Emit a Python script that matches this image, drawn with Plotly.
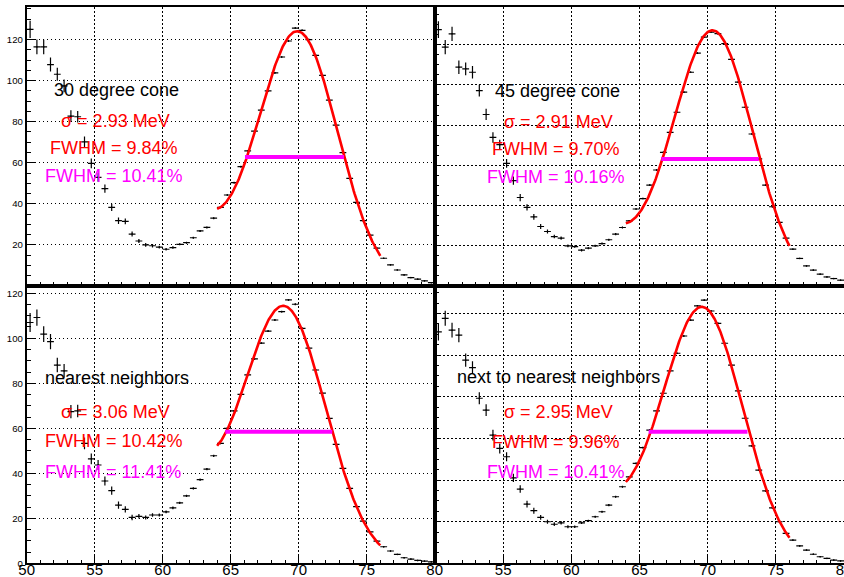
import numpy as np
import plotly.graph_objects as go

# ---- histogram binning: 60 bins of 0.5 MeV between 50 and 80 MeV ----
bin_lo, bin_hi, n_bins = 50.0, 80.0, 60
bin_width = (bin_hi - bin_lo) / n_bins
bin_centers = bin_lo + bin_width * (np.arange(n_bins) + 0.5)

counts_30deg = [125.0, 116.4, 116.4, 107.8, 103.1, 97.4, 82.7, 82.4, 70.2, 59.7,
                52.9, 47.4, 38.3, 31.8, 31.5, 25.3, 21.9, 20.0, 19.6, 18.9,
                17.9, 18.7, 20.3, 21.1, 23.5, 26.8, 28.5, 33.0, 38.3, 44.3,
                50.3, 58.1, 65.8, 75.4, 85.6, 95.0, 103.8, 111.5, 119.3, 125.6,
                124.5, 120.0, 112.3, 102.6, 90.5, 78.3, 64.9, 52.4, 40.7, 31.8,
                24.8, 18.4, 13.5, 10.3, 7.8, 5.4, 4.1, 3.3, 2.5, 1.6]

counts_45deg = [127.5, 118.8, 125.4, 108.8, 108.0, 106.3, 97.2, 85.3, 73.9, 70.3,
                61.0, 52.4, 44.0, 39.1, 34.4, 29.6, 27.1, 24.6, 23.8, 20.0,
                19.6, 17.8, 18.8, 20.0, 21.1, 23.0, 25.8, 29.1, 32.4, 38.3,
                43.5, 50.2, 57.7, 66.5, 76.4, 86.4, 96.4, 106.3, 115.8, 123.8,
                126.3, 125.5, 120.5, 112.7, 101.4, 88.9, 75.6, 63.2, 50.2, 39.4,
                31.6, 23.8, 18.3, 13.7, 10.0, 7.9, 5.9, 4.5, 3.7, 2.9]

counts_nn = [107.0, 109.2, 101.8, 98.5, 88.1, 85.5, 67.4, 67.7, 53.3, 46.4,
             43.7, 36.6, 32.3, 25.9, 24.0, 20.4, 20.9, 20.4, 21.5, 21.5,
             22.9, 24.7, 26.9, 30.0, 33.3, 37.2, 41.9, 47.8, 53.3, 60.0,
             67.7, 75.1, 83.7, 90.8, 97.8, 103.2, 108.1, 111.8, 117.0, 115.1,
             104.4, 95.6, 85.9, 75.6, 64.4, 52.9, 42.2, 33.3, 25.2, 18.8,
             14.0, 9.9, 7.4, 5.5, 4.0, 2.5, 1.9, 1.3, 1.0, 0.7]

counts_nnn = [111.2, 117.7, 112.0, 109.6, 97.6, 94.0, 79.3, 73.6, 61.6, 55.2,
              51.2, 41.1, 35.7, 28.5, 25.3, 22.1, 20.0, 18.8, 19.5, 17.6,
              17.6, 19.5, 20.5, 22.4, 24.8, 28.0, 32.0, 36.8, 41.5, 48.0,
              55.6, 64.0, 73.2, 81.7, 92.4, 100.9, 109.2, 116.8, 123.7, 126.4,
              121.2, 115.3, 105.7, 95.2, 82.8, 69.7, 56.4, 44.8, 34.8, 26.7,
              20.0, 14.4, 11.2, 8.4, 6.4, 4.4, 3.2, 2.4, 1.6, 1.2]

# per-bin statistical errors (weighted entries, larger at low energy)
bin_err = [4.2, 3.6, 3.5, 3.4, 3.2, 3.1, 2.9, 2.8, 2.6, 2.4,
           2.2, 2.0, 1.8, 1.6, 1.4, 1.2, 1.0, 0.9, 0.8, 0.7,
           0.6, 0.6, 0.5, 0.5, 0.5, 0.5, 0.5, 0.5, 0.4, 0.4,
           0.4, 0.4, 0.4, 0.4, 0.4, 0.4, 0.4, 0.4, 0.4, 0.4,
           0.4, 0.4, 0.4, 0.4, 0.4, 0.4, 0.4, 0.4, 0.4, 0.4,
           0.3, 0.3, 0.3, 0.3, 0.3, 0.3, 0.3, 0.3, 0.3, 0.3]

panel_counts = [counts_30deg, counts_45deg, counts_nn, counts_nnn]
panel_labels = ["30 degree cone", "45 degree cone",
                "nearest neighbors", "next to nearest neighbors"]
sigma_mev = [2.93, 2.91, 3.06, 2.95]
fwhm_fit_pct = [9.84, 9.70, 10.42, 9.96]
fwhm_hist_pct = [10.41, 10.16, 11.41, 10.41]

# fit model: gaus(amp, mean, sigma) + expo background bkg_amp*exp(-bkg_slope*(E-64))
fit_amp = [122.0, 125.0, 112.0, 119.5]
fit_mean = [69.95, 70.4, 68.95, 69.65]
bkg_amp = [22.0, 20.0, 22.0, 20.0]
bkg_slope = [0.40, 0.35, 0.45, 0.30]
fit_lo, fit_hi = 64.0, 76.0

# left edge of the histogram full width at half maximum
hist_fwhm_left = [66.05, 66.6, 64.6, 65.67]

# ---- layout of the 2x2 pads ----
W, H = 844, 577
x_dom = [[26.7 / W, 434.7 / W], [435.0 / W, 1.0]]
y_dom = [[1 - 286.0 / H, 1 - 7.3 / H], [1 - 563.4 / H, 1 - 286.0 / H]]
y_ranges = [[0, 135.7], [0, 138.6], [0, 123.2], [0, 133.2]]

# text anchor points (data coordinates, left edge / vertical middle)
text_pos = [
    [(51.84, 95.3), (52.40, 80.3), (51.59, 67.1), (51.22, 53.8)],
    [(54.27, 97.2), (54.89, 81.4), (54.03, 68.3), (53.66, 54.2)],
    [(51.22, 82.4), (52.40, 67.3), (51.22, 54.2), (51.22, 40.7)],
    [(51.47, 89.4), (54.89, 72.8), (54.03, 58.4), (53.66, 44.0)],
]

FONT = "Liberation Sans, Arial, Helvetica, sans-serif"
RED = "#ff0000"
MAGENTA = "#ff00ff"

fig = go.Figure()
annotations = []

for p in range(4):
    row, col = divmod(p, 2)
    sfx = "" if p == 0 else str(p + 1)
    xa, ya = "x" + sfx, "y" + sfx
    counts = np.array(panel_counts[p])

    # histogram points with error bars
    fig.add_trace(go.Scatter(
        x=bin_centers, y=counts, mode="markers", xaxis=xa, yaxis=ya,
        marker=dict(size=1.5, color="black"),
        error_y=dict(type="data", array=bin_err, color="black", thickness=1.2, width=0),
        error_x=dict(type="constant", value=bin_width / 2, color="black", thickness=1.2, width=0),
        hoverinfo="skip", showlegend=False,
    ))

    # fitted curve
    xf = np.linspace(fit_lo, fit_hi, 241)
    yf = (fit_amp[p] * np.exp(-0.5 * ((xf - fit_mean[p]) / sigma_mev[p]) ** 2)
          + bkg_amp[p] * np.exp(-bkg_slope[p] * (xf - fit_lo)))
    fig.add_trace(go.Scatter(
        x=xf, y=yf, mode="lines", xaxis=xa, yaxis=ya,
        line=dict(color=RED, width=2.6), hoverinfo="skip", showlegend=False,
    ))

    # histogram FWHM bar at half of the peak maximum
    in_fit = (bin_centers >= fit_lo) & (bin_centers <= fit_hi)
    half = counts[in_fit].max() / 2.0
    x1 = hist_fwhm_left[p]
    x2 = x1 + fwhm_hist_pct[p] / 100.0 * fit_mean[p]
    fig.add_trace(go.Scatter(
        x=[x1, x2], y=[half, half], mode="lines", xaxis=xa, yaxis=ya,
        line=dict(color=MAGENTA, width=4), hoverinfo="skip", showlegend=False,
    ))

    texts = [
        (panel_labels[p], "black"),
        ("\u03c3 = %.2f MeV" % sigma_mev[p], RED),
        ("FWHM = %.2f%%" % fwhm_fit_pct[p], RED),
        ("FWHM = %.2f%%" % fwhm_hist_pct[p], MAGENTA),
    ]
    for (tx, ty), (txt, colr) in zip(text_pos[p], texts):
        annotations.append(dict(
            x=tx, y=ty, xref=xa, yref=ya, text=txt, showarrow=False,
            xanchor="left", yanchor="middle",
            font=dict(family=FONT, size=18, color=colr),
        ))

    is_bottom = row == 1
    is_left = col == 0
    if is_bottom:
        xtv = [50, 55, 60, 65, 70, 75, 80] if is_left else [55, 60, 65, 70, 75, 80]
    else:
        xtv = []
    ytv = ([0, 20, 40, 60, 80, 100, 120] if is_bottom else [20, 40, 60, 80, 100, 120]) if is_left else []

    axis_common = dict(
        showline=True, linecolor="black", linewidth=1.8, mirror=True,
        ticks="inside", tickcolor="black", tickwidth=1, ticklen=8,
        showgrid=True, gridcolor="black", gridwidth=1, griddash="1.5px,2.5px",
        zeroline=False, automargin=False,
    )
    fig.layout["xaxis" + sfx] = dict(
        axis_common, domain=x_dom[col], range=[50, 80], anchor=ya,
        tickmode="array", tickvals=[50, 55, 60, 65, 70, 75, 80],
        ticktext=[str(v) if v in xtv else "" for v in [50, 55, 60, 65, 70, 75, 80]],
        showticklabels=is_bottom,
        tickfont=dict(family=FONT, size=15, color="black"),
        ticklabelstandoff=-8,
        ticklabeloverflow="allow" if (is_bottom and not is_left) else "hide past div",
        minor=dict(dtick=1, ticklen=4, tickwidth=1, tickcolor="black", ticks="inside", showgrid=False),
    )
    fig.layout["yaxis" + sfx] = dict(
        axis_common, domain=y_dom[row], range=y_ranges[p], anchor=xa,
        tickmode="array", tickvals=[0, 20, 40, 60, 80, 100, 120],
        ticktext=[str(v) if v in ytv else "" for v in [0, 20, 40, 60, 80, 100, 120]],
        showticklabels=is_left,
        tickfont=dict(family=FONT, size=9.6, color="black"),
        minor=dict(dtick=5, ticklen=4, tickwidth=1, tickcolor="black", ticks="inside", showgrid=False),
    )

fig.update_layout(
    width=W, height=H,
    margin=dict(l=0, r=0, t=0, b=0, autoexpand=False),
    paper_bgcolor="white", plot_bgcolor="white",
    showlegend=False,
    annotations=annotations,
    font=dict(family=FONT),
)

fig.write_html("out.html")
